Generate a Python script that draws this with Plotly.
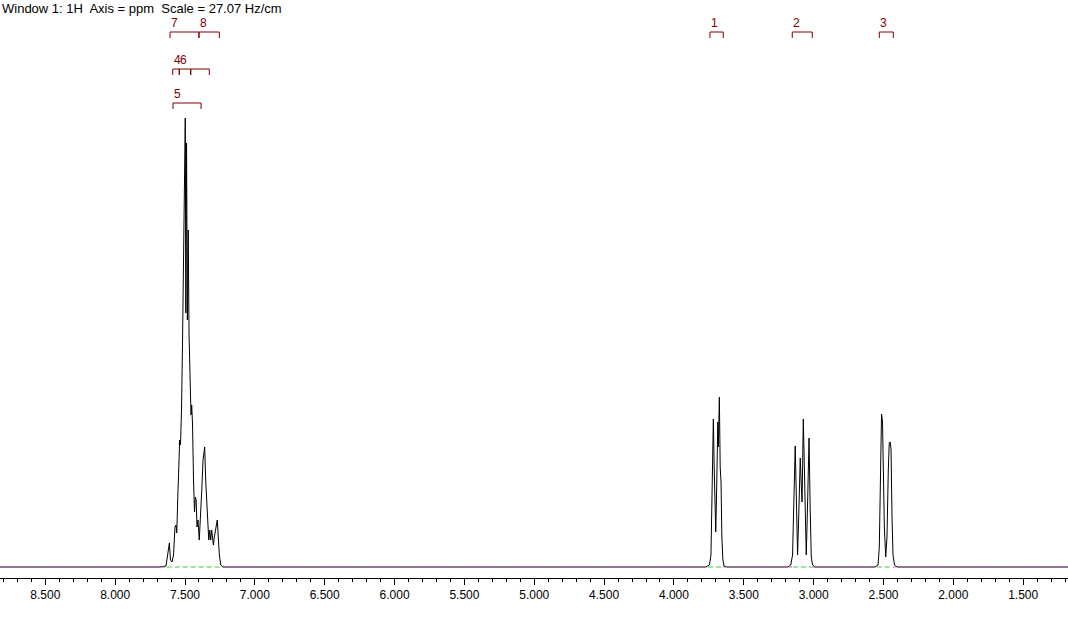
import plotly.graph_objects as go

# ---------------- data ----------------
# aromatic multiplet (ppm, intensity in arbitrary units)
arom_ppm = [7.679, 7.636, 7.622, 7.612, 7.604, 7.593, 7.582, 7.572, 7.564, 7.559,
            7.550, 7.543, 7.538, 7.532, 7.525, 7.518, 7.511, 7.505, 7.498, 7.494,
            7.489, 7.483, 7.477, 7.471, 7.464, 7.457, 7.452, 7.446, 7.439, 7.432,
            7.426, 7.420, 7.414, 7.407, 7.398, 7.390, 7.380, 7.371, 7.359, 7.352,
            7.345, 7.338, 7.330, 7.323, 7.316, 7.309, 7.302, 7.297, 7.290, 7.278,
            7.269, 7.262, 7.254, 7.244, 7.228]
arom_int = [0, 1, 12, 24, 7, 5, 12, 40, 42, 34,
            77, 117, 127, 122, 157, 222, 297, 362, 449, 254,
            424, 247, 337, 232, 172, 152, 162, 142, 87, 55,
            70, 67, 40, 47, 27, 57, 77, 107, 120, 87,
            64, 37, 27, 37, 27, 37, 24, 22, 30, 40,
            47, 30, 12, 2, 0]

m1_ppm = [3.771, 3.746, 3.735, 3.728, 3.723, 3.718, 3.712, 3.706, 3.701, 3.696,
          3.690, 3.686, 3.682, 3.675, 3.669, 3.663, 3.657, 3.650, 3.642, 3.620]
m1_int = [0, 2, 12, 75, 88, 148, 100, 60, 35, 65,
          110, 145, 120, 170, 100, 85, 30, 8, 1, 0]

m2_ppm = [3.184, 3.164, 3.151, 3.142, 3.132, 3.124, 3.115, 3.106, 3.096, 3.088,
          3.083, 3.074, 3.066, 3.061, 3.053, 3.044, 3.033, 3.025, 3.017, 3.008, 2.990]
m2_int = [0, 2, 12, 60, 121, 70, 12, 55, 109, 80,
          65, 148, 95, 40, 12, 60, 129, 60, 10, 2, 0]

m3_ppm = [2.561, 2.539, 2.530, 2.523, 2.514, 2.507, 2.501, 2.494, 2.484, 2.475,
          2.466, 2.459, 2.452, 2.446, 2.439, 2.432, 2.421, 2.403]
m3_int = [0, 2, 20, 105, 153, 145, 95, 40, 10, 30,
          95, 124, 125, 118, 50, 12, 2, 0]

ppm_min, ppm_max = 1.1793, 8.8243

# integration regions on the baseline (start ppm, end ppm)
integ_start = [7.631, 3.756, 3.148, 2.548]
integ_end = [7.226, 3.649, 3.011, 2.433]

# integral brackets: label, start ppm, end ppm, row
br_label = ["7", "8", "4", "6", "", "5", "1", "2", "3"]
br_start = [7.607, 7.400, 7.588, 7.541, 7.459, 7.586, 3.742, 3.153, 2.530]
br_end = [7.400, 7.254, 7.541, 7.459, 7.326, 7.385, 3.647, 3.010, 2.430]
br_row = [0, 0, 1, 1, 1, 2, 0, 0, 0]

tick_vals = [8.5, 8.0, 7.5, 7.0, 6.5, 6.0, 5.5, 5.0, 4.5, 4.0, 3.5, 3.0, 2.5, 2.0, 1.5]
title_text = "Window 1: 1H\u00a0 Axis = ppm\u00a0 Scale = 27.07 Hz/cm"

# ---------------- styles ----------------
FONT = "Liberation Sans, Arial, sans-serif"
RED = "#800000"
row_y = [535, 498, 464]      # bracket heights (axis units) per row
tick_h = 6

# ---------------- build ----------------
spec_x = [ppm_max] + arom_ppm + m1_ppm + m2_ppm + m3_ppm + [ppm_min]
spec_y = [0] + arom_int + m1_int + m2_int + m3_int + [0]

fig = go.Figure()

# spectrum
fig.add_trace(go.Scatter(x=spec_x, y=spec_y, mode="lines",
                         line=dict(color="black", width=1), hoverinfo="skip"))

# magenta dashed zero line outside integration regions
bounds = [ppm_max] + [v for pair in zip(integ_start, integ_end) for v in pair] + [ppm_min]
mx, my = [], []
for i in range(0, len(bounds), 2):
    mx += [bounds[i], bounds[i + 1], None]
    my += [0, 0, None]
fig.add_trace(go.Scatter(x=mx, y=my, mode="lines",
                         line=dict(color="#c84cc8", width=1, dash="3px,3px"),
                         hoverinfo="skip"))

# green dashed baseline inside integration regions
gx, gy = [], []
for s, e in zip(integ_start, integ_end):
    gx += [s, e, None]
    gy += [0, 0, None]
fig.add_trace(go.Scatter(x=gx, y=gy, mode="lines",
                         line=dict(color="#3ccc3c", width=1, dash="5px,3px"),
                         hoverinfo="skip"))

# integral brackets
bx, by = [], []
for lab, s, e, r in zip(br_label, br_start, br_end, br_row):
    y0 = row_y[r]
    bx += [s, s, e, e, None]
    by += [y0 - tick_h, y0, y0, y0 - tick_h, None]
    if lab:
        fig.add_annotation(x=s, y=y0, text=lab, showarrow=False,
                           xanchor="left", yanchor="bottom", xshift=-1,
                           font=dict(family=FONT, size=12, color=RED))
fig.add_trace(go.Scatter(x=bx, y=by, mode="lines",
                         line=dict(color=RED, width=1), hoverinfo="skip"))

fig.add_annotation(xref="paper", yref="paper", x=0, y=1, xanchor="left", yanchor="top",
                   text=title_text, showarrow=False, yshift=1,
                   font=dict(family=FONT, size=13, color="black"))

fig.update_layout(
    width=1068, height=618,
    margin=dict(l=0, r=0, t=0, b=40),
    paper_bgcolor="white", plot_bgcolor="white",
    showlegend=False,
    xaxis=dict(range=[ppm_max, ppm_min], showgrid=False, zeroline=False,
               showline=True, linecolor="black", linewidth=1,
               ticks="outside", ticklen=6, tickcolor="black", tickwidth=1,
               tickvals=tick_vals, ticktext=[f"{v:.3f}" for v in tick_vals],
               tickfont=dict(family=FONT, size=12, color="black"),
               minor=dict(ticks="outside", ticklen=3, tickcolor="black",
                          dtick=0.1, tick0=0, showgrid=False)),
    yaxis=dict(range=[-11, 567], visible=False, showgrid=False, zeroline=False),
)

fig.write_html("out.html", config={"displayModeBar": False},
               post_script="document.body.style.margin='0';document.body.style.overflow='hidden';")
